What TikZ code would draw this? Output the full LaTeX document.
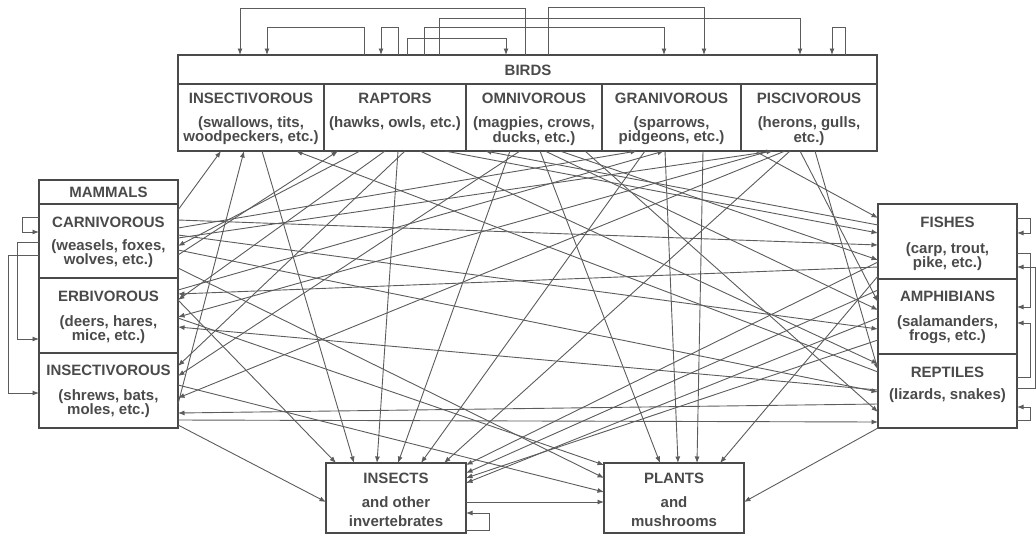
\documentclass[tikz,border=0pt]{standalone}
\usepackage{fontspec}
\setmainfont{Liberation Sans}
\usetikzlibrary{arrows.meta}
\definecolor{ink}{HTML}{4A4A4A}
\definecolor{wirec}{HTML}{5C5C5C}
\begin{document}
\begin{tikzpicture}[x=1pt,y=-1pt,
  box/.style={draw=ink, line width=1.3pt, inner sep=0pt, outer sep=0pt, anchor=north west},
  lbl/.style={text=ink, font=\fontsize{15}{14}\selectfont\bfseries, align=center, inner sep=0pt},
  lblw/.style={text=ink, font=\fontsize{15}{19}\selectfont\bfseries, align=center, inner sep=0pt},
  wire/.style={draw=wirec, line width=0.9pt, -{Latex[length=6.5pt,width=5pt]}},
]
\useasboundingbox (0,0) rectangle (1036,539);

% ---------- boxes ----------
\node[box, minimum width=699pt, minimum height=29pt] (birds) at (178,55) {};
\node[box, minimum width=146pt, minimum height=67pt] (bins) at (178,84) {};
\node[box, minimum width=142pt, minimum height=67pt] (brap) at (324,84) {};
\node[box, minimum width=136pt, minimum height=67pt] (bomn) at (466,84) {};
\node[box, minimum width=139pt, minimum height=67pt] (bgra) at (602,84) {};
\node[box, minimum width=136pt, minimum height=67pt] (bpis) at (741,84) {};

\node[box, minimum width=139pt, minimum height=24pt] (mamh) at (39,180) {};
\node[box, minimum width=139pt, minimum height=74pt] (mcar) at (39,204) {};
\node[box, minimum width=139pt, minimum height=75pt] (merb) at (39,278) {};
\node[box, minimum width=139pt, minimum height=75pt] (mins) at (39,353) {};

\node[box, minimum width=139pt, minimum height=75pt] (fish) at (878,204) {};
\node[box, minimum width=139pt, minimum height=75pt] (amph) at (878,279) {};
\node[box, minimum width=139pt, minimum height=74pt] (rept) at (878,354) {};

\node[box, minimum width=140pt, minimum height=70pt] (ins) at (326,463) {};
\node[box, minimum width=140pt, minimum height=70pt] (pla) at (604,463) {};

% ---------- connectors ----------
% predators of birds (from below)
\draw[wire] (mcar.east |- 0,210) -- (221,0 |- bins.south);
\draw[wire] (mcar.east |- 0,404) -- (244,0 |- bins.south);
\draw[wire] (fish.west |- 0,372) -- (296,0 |- bins.south);
\draw[wire] (mcar.east |- 0,255) -- (338,0 |- bins.south);
\draw[wire] (fish.west |- 0,225) -- (485,0 |- bins.south);
\draw[wire] (mcar.east |- 0,228) -- (637,0 |- bins.south);
\draw[wire] (mcar.east |- 0,290) -- (664,0 |- bins.south);
\draw[wire] (mcar.east |- 0,238) -- (773,0 |- bins.south);
% into mammals
\draw[wire] (360,0 |- bins.south) -- (mcar.east |- 0,246);
\draw[wire] (fish.west |- 0,267) -- (mcar.east |- 0,294);
\draw[wire] (385,0 |- bins.south) -- (mcar.east |- 0,300);
\draw[wire] (770,0 |- bins.south) -- (mcar.east |- 0,317);
\draw[wire] (fish.west |- 0,390) -- (mcar.east |- 0,327);
\draw[wire] (405,0 |- bins.south) -- (mcar.east |- 0,366);
\draw[wire] (520,0 |- bins.south) -- (mcar.east |- 0,376);
\draw[wire] (785,0 |- bins.south) -- (mcar.east |- 0,398);
\draw[wire] (fish.west |- 0,404) -- (mcar.east |- 0,413);
% into fishes, amphibians, reptiles
\draw[wire] (755,0 |- bins.south) -- (fish.west |- 0,218);
\draw[wire] (445,0 |- bins.south) -- (fish.west |- 0,233);
\draw[wire] (mcar.east |- 0,220) -- (fish.west |- 0,245);
\draw[wire] (560,0 |- bins.south) -- (fish.west |- 0,260);
\draw[wire] (800,0 |- bins.south) -- (fish.west |- 0,302);
\draw[wire] (545,0 |- bins.south) -- (fish.west |- 0,310);
\draw[wire] (mcar.east |- 0,235) -- (fish.west |- 0,329);
\draw[wire] (420,0 |- bins.south) -- (fish.west |- 0,364);
\draw[wire] (815,0 |- bins.south) -- (fish.west |- 0,370);
\draw[wire] (mcar.east |- 0,250) -- (fish.west |- 0,392);
\draw[wire] (585,0 |- bins.south) -- (fish.west |- 0,412);
\draw[wire] (mcar.east |- 0,420) -- (fish.west |- 0,422);
% into insects
\draw[wire] (mcar.east |- 0,300) -- (336,0 |- ins.north);
\draw[wire] (262,0 |- bins.south) -- (354,0 |- ins.north);
\draw[wire] (398,0 |- bins.south) -- (377,0 |- ins.north);
\draw[wire] (510,0 |- bins.south) -- (398,0 |- ins.north);
\draw[wire] (645,0 |- bins.south) -- (421,0 |- ins.north);
\draw[wire] (790,0 |- bins.south) -- (444,0 |- ins.north);
\draw[wire] (fish.west |- 0,262) -- (ins.east |- 0,465);
\draw[wire] (fish.west |- 0,290) -- (ins.east |- 0,473);
\draw[wire] (fish.west |- 0,340) -- (ins.east |- 0,478);
\draw[wire] (fish.west |- 0,318) -- (ins.east |- 0,483);
\draw[wire] (mcar.east |- 0,425) -- (ins.west |- 0,502);
\draw[wire] (ins.east |- 0,530) -| (489,513) -- (ins.east |- 0,513);
\draw[wire] (ins.east |- 0,502) -- (pla.west |- 0,502);
% into plants
\draw[wire] (mcar.east |- 0,318) -- (pla.west |- 0,465);
\draw[wire] (mcar.east |- 0,268) -- (pla.west |- 0,478);
\draw[wire] (mcar.east |- 0,385) -- (pla.west |- 0,492);
\draw[wire] (540,0 |- bins.south) -- (660,0 |- pla.north);
\draw[wire] (665,0 |- bins.south) -- (678,0 |- pla.north);
\draw[wire] (703,0 |- bins.south) -- (697,0 |- pla.north);
\draw[wire] (fish.west |- 0,276) -- (720,0 |- pla.north);
\draw[wire] (fish.west |- 0,428) -- (pla.east |- 0,502);
% birds eating birds (top loops)
\draw[wire] (525,0 |- birds.north) |- (240,8) -- (240,0 |- birds.north);
\draw[wire] (364,0 |- birds.north) |- (267,27) -- (267,0 |- birds.north);
\draw[wire] (398,0 |- birds.north) |- (381,27) -- (381,0 |- birds.north);
\draw[wire] (407,0 |- birds.north) |- (506,38) -- (506,0 |- birds.north);
\draw[wire] (424,0 |- birds.north) |- (664,27) -- (664,0 |- birds.north);
\draw[wire] (439,0 |- birds.north) |- (800,18) -- (800,0 |- birds.north);
\draw[wire] (548,0 |- birds.north) |- (704,7) -- (704,0 |- birds.north);
\draw[wire] (845,0 |- birds.north) |- (832,27) -- (832,0 |- birds.north);
% mammal loops (left)
\draw[wire] (mcar.west |- 0,217) -| (22,232) -- (mcar.west |- 0,232);
\draw[wire] (mcar.west |- 0,242) -| (17,339) -- (mcar.west |- 0,339);
\draw[wire] (mcar.west |- 0,255) -| (8,393) -- (mcar.west |- 0,393);
% right loops
\draw[wire] (fish.east |- 0,218) -| (1030,233) -- (fish.east |- 0,233);
\draw[wire] (fish.east |- 0,253) -| (1030,307) -- (fish.east |- 0,307);
\draw[wire] (fish.east |- 0,388) -| (1035,267) -- (fish.east |- 0,267);
\draw[wire] (fish.east |- 0,377) -| (1030,323) -- (fish.east |- 0,323);
\draw[wire] (fish.east |- 0,420) -| (1030,407) -- (fish.east |- 0,407);

% ---------- texts ----------
\node[lbl] (tbirds) at (528,70) {BIRDS};
\node[lbl] (tb1) at (251,98) {INSECTIVOROUS};
\node[lbl] (tb1d) at (251,131) {(swallows, tits,\\woodpeckers, etc.)};
\node[lbl] (tb2) at (395,98) {RAPTORS};
\node[lbl] (tb2d) at (395,124) {(hawks, owls, etc.)};
\node[lbl] (tb3) at (534,98) {OMNIVOROUS};
\node[lbl] (tb3d) at (534,131) {(magpies, crows,\\ducks, etc.)};
\node[lbl] (tb4) at (671.5,98) {GRANIVOROUS};
\node[lbl] (tb4d) at (671.5,131) {(sparrows,\\pidgeons, etc.)};
\node[lbl] (tb5) at (809,98) {PISCIVOROUS};
\node[lbl] (tb5d) at (809,131) {(herons, gulls,\\etc.)};

\node[lbl] (tmam) at (108.5,192) {MAMMALS};
\node[lbl] (tm1) at (108.5,222) {CARNIVOROUS};
\node[lbl] (tm1d) at (108.5,254) {(weasels, foxes,\\wolves, etc.)};
\node[lbl] (tm2) at (108.5,296) {ERBIVOROUS};
\node[lbl] (tm2d) at (108.5,330) {(deers, hares,\\mice, etc.)};
\node[lbl] (tm3) at (108.5,370) {INSECTIVOROUS};
\node[lbl] (tm3d) at (108.5,404) {(shrews, bats,\\moles, etc.)};

\node[lbl] (tf) at (947.5,222) {FISHES};
\node[lbl] (tfd) at (947.5,257) {(carp, trout,\\pike, etc.)};
\node[lbl] (ta) at (947.5,296) {AMPHIBIANS};
\node[lbl] (tad) at (947.5,330) {(salamanders,\\frogs, etc.)};
\node[lbl] (tr) at (947.5,372) {REPTILES};
\node[lbl] (trd) at (947.5,396) {(lizards, snakes)};

\node[lbl] (ti) at (396,478) {INSECTS};
\node[lblw] (tid) at (396,512) {and other\\invertebrates};
\node[lbl] (tp) at (674,478) {PLANTS};
\node[lblw] (tpd) at (674,512) {and\\mushrooms};
\end{tikzpicture}
\end{document}
